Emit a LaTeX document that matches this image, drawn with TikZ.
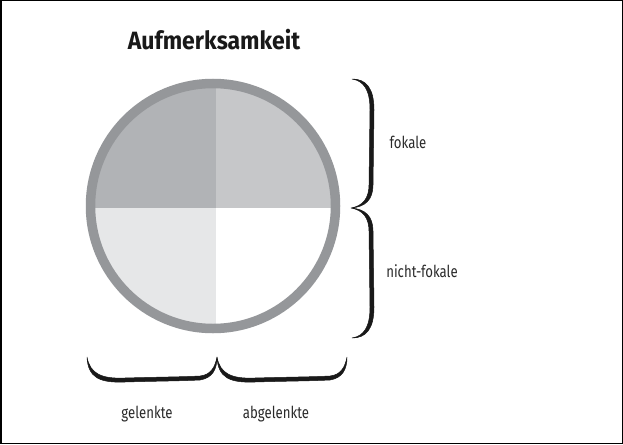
\documentclass[tikz,border=0pt]{standalone}
\usepackage{fontspec}
\newfontfamily\labelfont{Fira Sans}[FakeStretch=0.8]
\newfontfamily\titlefont{Fira Sans}[FakeStretch=0.92]
\definecolor{ringc}{HTML}{95979A}
\definecolor{qtl}{HTML}{B1B3B6}
\definecolor{qtr}{HTML}{C6C7C9}
\definecolor{qbl}{HTML}{E6E7E8}
\definecolor{qbr}{HTML}{FFFFFF}
\definecolor{txtc}{HTML}{2A2A2A}
\tikzset{
  lbl/.style={font=\labelfont\fontsize{16.5}{19}\selectfont, text=txtc, anchor=base, inner sep=0pt},
  ttl/.style={font=\titlefont\bfseries\fontsize{25}{30}\selectfont, text=black!90, anchor=base, inner sep=0pt},
  bracefill/.style={fill=black!90, draw=black!90, line width=0.5pt, line join=round},
  hbrace/.pic={
    \path[bracefill] (0,0) .. controls (1,21) and (13,26) .. (38,25)
      .. controls (73,24) and (93,24) .. (113,23)
      .. controls (125,21) and (130,13) .. (130,0)
      .. controls (128,11) and (123,18) .. (113,19)
      .. controls (93,20) and (73,20) .. (38,21)
      .. controls (15,22) and (3,17) .. (0,0) -- cycle;
  },
  vbrace/.pic={
    \path[bracefill] (0,0) .. controls (14,0) and (22,9) .. (22,31)
      -- (21,106) .. controls (21,121) and (13,128) .. (-1,129)
      .. controls (13,130) and (21,137) .. (21,152)
      -- (22,228) .. controls (22,250) and (14,259) .. (0,259)
      .. controls (12,257) and (18,248) .. (18,228)
      -- (17,152) .. controls (17,139) and (11,131) .. (-1,129)
      .. controls (11,127) and (17,119) .. (17,106)
      -- (18,31) .. controls (18,11) and (12,2) .. (0,0) -- cycle;
  }
}
\begin{document}
\begin{tikzpicture}[x=1pt,y=-1pt]
\useasboundingbox (0,0) rectangle (623,444);
\fill[white] (0,0) rectangle (623,444);
% quadrants
\coordinate (c) at (213,206);
\coordinate (d) at (216,208);
\begin{scope}
  \clip (c) circle[radius=124];
  \fill[qtl] (80,70) rectangle (d);
  \fill[qtr] (d |- 0,70) rectangle (350,208);
  \fill[qbl] (80,208) rectangle (216,340);
  \fill[qbr] (d) rectangle (350,340);
\end{scope}
\draw[ringc, line width=9.5pt] (c) circle[radius=122.5];
% title
\node[ttl] (title) at (214,50) {Aufmerksamkeit};
% braces
\pic (rb) at (352,79) {vbrace};
\pic (lb1) at (87,357) {hbrace};
\pic (lb2) at (217,357) {hbrace};
% labels
\node[lbl] (fok) at (408,148) {fokale};
\node[lbl] (nfok) at (422,277) {nicht-fokale};
\node[lbl] (gel) at (147,418) {gelenkte};
\node[lbl] (abg) at (276,418) {abgelenkte};
% frame
\draw[black, line width=1.5pt] (0.75,0.75) rectangle (622.25,443.25);
\end{tikzpicture}
\end{document}
